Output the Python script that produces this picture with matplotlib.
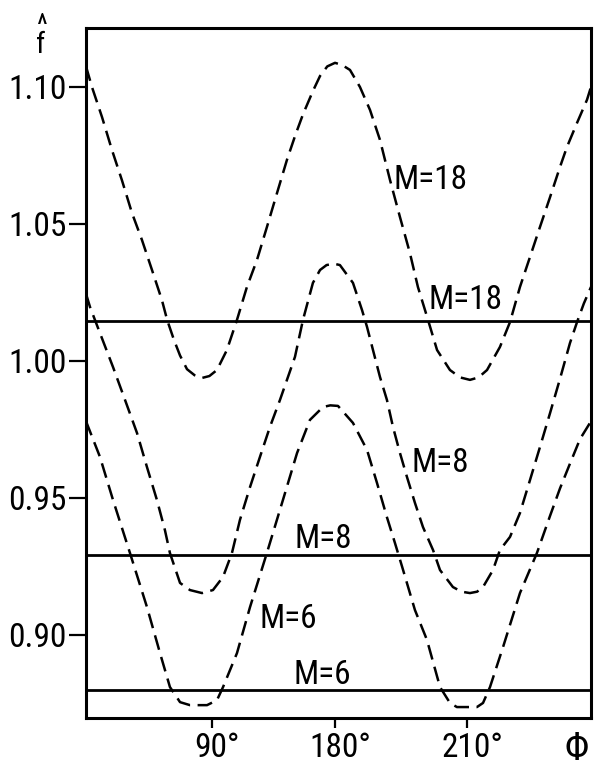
import matplotlib
matplotlib.use("Agg")
import matplotlib.pyplot as plt
import matplotlib.transforms as mtransforms
from matplotlib import font_manager as fm

# the lettering in the scan is narrow; look for a condensed face
def narrow_font():
    have = fm.fontManager.ttflist
    for name in ['Liberation Sans Narrow', 'Roboto Condensed', 'Open Sans Condensed',
                 'DejaVu Sans Condensed', 'Noto Sans Condensed', 'Arial Narrow']:
        for f in have:
            if f.name == name and f.style == 'normal' and f.weight in (400, 'normal', 'regular'):
                return f.fname
    for f in have:
        if str(f.stretch) in ('condensed', 'semi-condensed', 'extra-condensed', 'narrower') \
                and f.style == 'normal' and f.weight in (400, 'normal', 'regular') \
                and f.name in ('DejaVu Sans', 'Noto Sans', 'Roboto', 'Open Sans', 'Liberation Sans'):
            return f.fname
    return None

fname = narrow_font()

def font(size):
    if fname:
        return fm.FontProperties(fname=fname, size=size)
    return fm.FontProperties(family='DejaVu Sans', size=size * 0.72)

# dashed curves, phi in degrees
phi_18 = [12.8, 16.8, 23.6, 30.3, 37.0, 43.8, 50.5, 57.3, 64.0, 67.5, 72.1, 76.2, 80.9,
          86.0, 91.0, 96.0, 101.1, 107.8, 114.6, 121.3, 128.1, 134.8, 141.6, 148.3,
          154.0, 159.1, 165.8, 170.6, 175.5, 180.7, 185.5, 190.8, 197.5, 204.3, 211.0,
          217.8, 224.5, 231.2, 236.6, 243.4, 249.5, 258.2, 265.0, 271.7, 277.5, 283.2,
          291.9, 298.7, 305.4, 312.2, 318.9, 325.7, 332.4, 337.1, 343.9, 350.6, 353.3]
f_18 = [1.1075, 1.100, 1.089, 1.077, 1.066, 1.054, 1.0442, 1.0332, 1.0222, 1.015, 1.0077,
        1.002, 0.997, 0.9948, 0.9938, 0.9945, 0.9967, 1.004, 1.015, 1.027, 1.0369,
        1.0489, 1.0613, 1.0734, 1.0825, 1.090, 1.0985, 1.104, 1.1075, 1.1088, 1.108,
        1.1062, 1.100, 1.0916, 1.0807, 1.066, 1.0525, 1.0394, 1.027, 1.015, 1.004,
        0.9967, 0.9940, 0.9931, 0.9940, 0.9967, 1.0051, 1.0142, 1.027, 1.038, 1.0489,
        1.0598, 1.0708, 1.0781, 1.0869, 1.0953, 1.1000]

phi_8 = [12.8, 15.5, 22.2, 31.0, 39.1, 47.2, 53.9, 60.6, 66.0, 69.4, 76.2, 82.9, 91.0,
         98.4, 105.2, 111.2, 116.6, 123.4, 130.1, 136.8, 143.6, 148.3, 153.7, 159.1,
         165.8, 170.6, 175.0, 180.0, 184.0, 192.8, 198.9, 202.3, 206.3, 211.0, 215.7,
         219.8, 224.5, 229.2, 234.6, 240.0, 246.8, 251.5, 260.2, 266.0, 271.7, 276.5,
         280.5, 287.2, 291.9, 298.7, 305.4, 312.2, 318.9, 325.7, 332.4, 339.1, 343.9,
         348.5, 353.3]
f_8 = [1.0245, 1.0197, 1.0102, 0.9978, 0.9858, 0.9737, 0.9613, 0.9493, 0.9383, 0.9299,
       0.919, 0.9164, 0.9153, 0.9164, 0.9212, 0.9299, 0.942, 0.954, 0.965, 0.9759,
       0.9858, 0.9931, 1.0015, 1.015, 1.0285, 1.0332, 1.0350, 1.0355, 1.035, 1.0285,
       1.0186, 1.0124, 1.004, 0.9942, 0.9858, 0.9759, 0.9664, 0.9577, 0.9482, 0.9394,
       0.931, 0.9237, 0.9175, 0.9158, 0.9153, 0.9158, 0.9175, 0.9237, 0.931, 0.9358,
       0.9445, 0.9566, 0.9686, 0.981, 0.9935, 1.0065, 1.0142, 1.021, 1.027]

phi_6 = [12.8, 22.2, 31.0, 42.4, 53.9, 62.7, 69.4, 76.2, 82.9, 94.4, 101.1, 105.2, 114.6,
         123.4, 134.8, 145.6, 155.1, 163.8, 172.6, 177.5, 182.7, 192.8, 202.3, 209.0,
         215.7, 221.1, 225.9, 231.2, 234.6, 242.7, 251.5, 258.2, 262.9, 276.4, 280.5,
         285.2, 294.0, 305.4, 316.9, 325.7, 332.4, 339.1, 345.9, 353.3]
f_6 = [0.978, 0.965, 0.9493, 0.930, 0.9102, 0.8934, 0.881, 0.8755, 0.8744, 0.8744,
       0.8762, 0.881, 0.8934, 0.9102, 0.930, 0.9493, 0.9664, 0.9785, 0.9832, 0.9838,
       0.9836, 0.9774, 0.9675, 0.9555, 0.943, 0.9336, 0.9250, 0.9153, 0.9091, 0.8982,
       0.881, 0.8752, 0.8737, 0.8737, 0.8752, 0.881, 0.8956, 0.9153, 0.930, 0.9435,
       0.9535, 0.9625, 0.9715, 0.978]

# solid lines (constant)
M_values = [18, 8, 6]
f_const = [1.0146, 0.9292, 0.880]

xtick_pos = [98, 181, 270]
xtick_labels = ['90°', '180°', '210°']
ytick_pos = [0.90, 0.95, 1.00, 1.05, 1.10]
ytick_labels = ['0.90', '0.95', '1.00', '1.05', '1.10']

fig = plt.figure(figsize=(5.96, 7.70), dpi=100)
ax = fig.add_axes([0.1443, 0.0675, 0.8473, 0.8961])

for phi, f in [(phi_18, f_18), (phi_8, f_8), (phi_6, f_6)]:
    ax.plot(phi, f, color='black', lw=1.8, dashes=(6, 3))

for fc in f_const:
    ax.axhline(fc, color='black', lw=2.0)

ax.set_xlim(12.8, 353.3)
ax.set_ylim(0.8697, 1.1215)

ax.set_yticks(ytick_pos)
ax.set_yticklabels(ytick_labels)
ax.set_xticks(xtick_pos)
ax.set_xticklabels(xtick_labels)
ax.tick_params(axis='y', direction='out', length=12, width=1.6, pad=2)
ax.tick_params(axis='x', direction='out', length=7, width=1.6, pad=3)
for lbl in ax.get_yticklabels() + ax.get_xticklabels():
    lbl.set_fontproperties(font(24))
for sp in ax.spines.values():
    sp.set_linewidth(2.2)

# numbers centered on the tick, degree sign hanging off to the right
shift = mtransforms.ScaledTranslation(5 / 100, 0, fig.dpi_scale_trans)
for lbl in ax.get_xticklabels():
    lbl.set_transform(lbl.get_transform() + shift)

# curve labels
ax.text(219.8, 1.0626, 'M=18', fontproperties=font(24), ha='left', va='baseline')
ax.text(243.4, 1.0190, 'M=18', fontproperties=font(24), ha='left', va='baseline')
ax.text(232.6, 0.9595, 'M=8', fontproperties=font(24), ha='left', va='baseline')
ax.text(153.7, 0.9317, 'M=8', fontproperties=font(24), ha='left', va='baseline')
ax.text(130.1, 0.9025, 'M=6', fontproperties=font(24), ha='left', va='baseline')
ax.text(152.4, 0.8820, 'M=6', fontproperties=font(24), ha='left', va='baseline')

# axis names (f with a hat over it, one text)
fig.text(41 / 596, 1 - 59 / 770, '^\nf', fontproperties=font(21), ha='center',
         va='bottom', linespacing=0.55, multialignment='center')
fig.text(577 / 596, 1 - 750 / 770, 'Φ', fontproperties=font(28), ha='center', va='center')

fig.savefig('out.png', dpi=100)
